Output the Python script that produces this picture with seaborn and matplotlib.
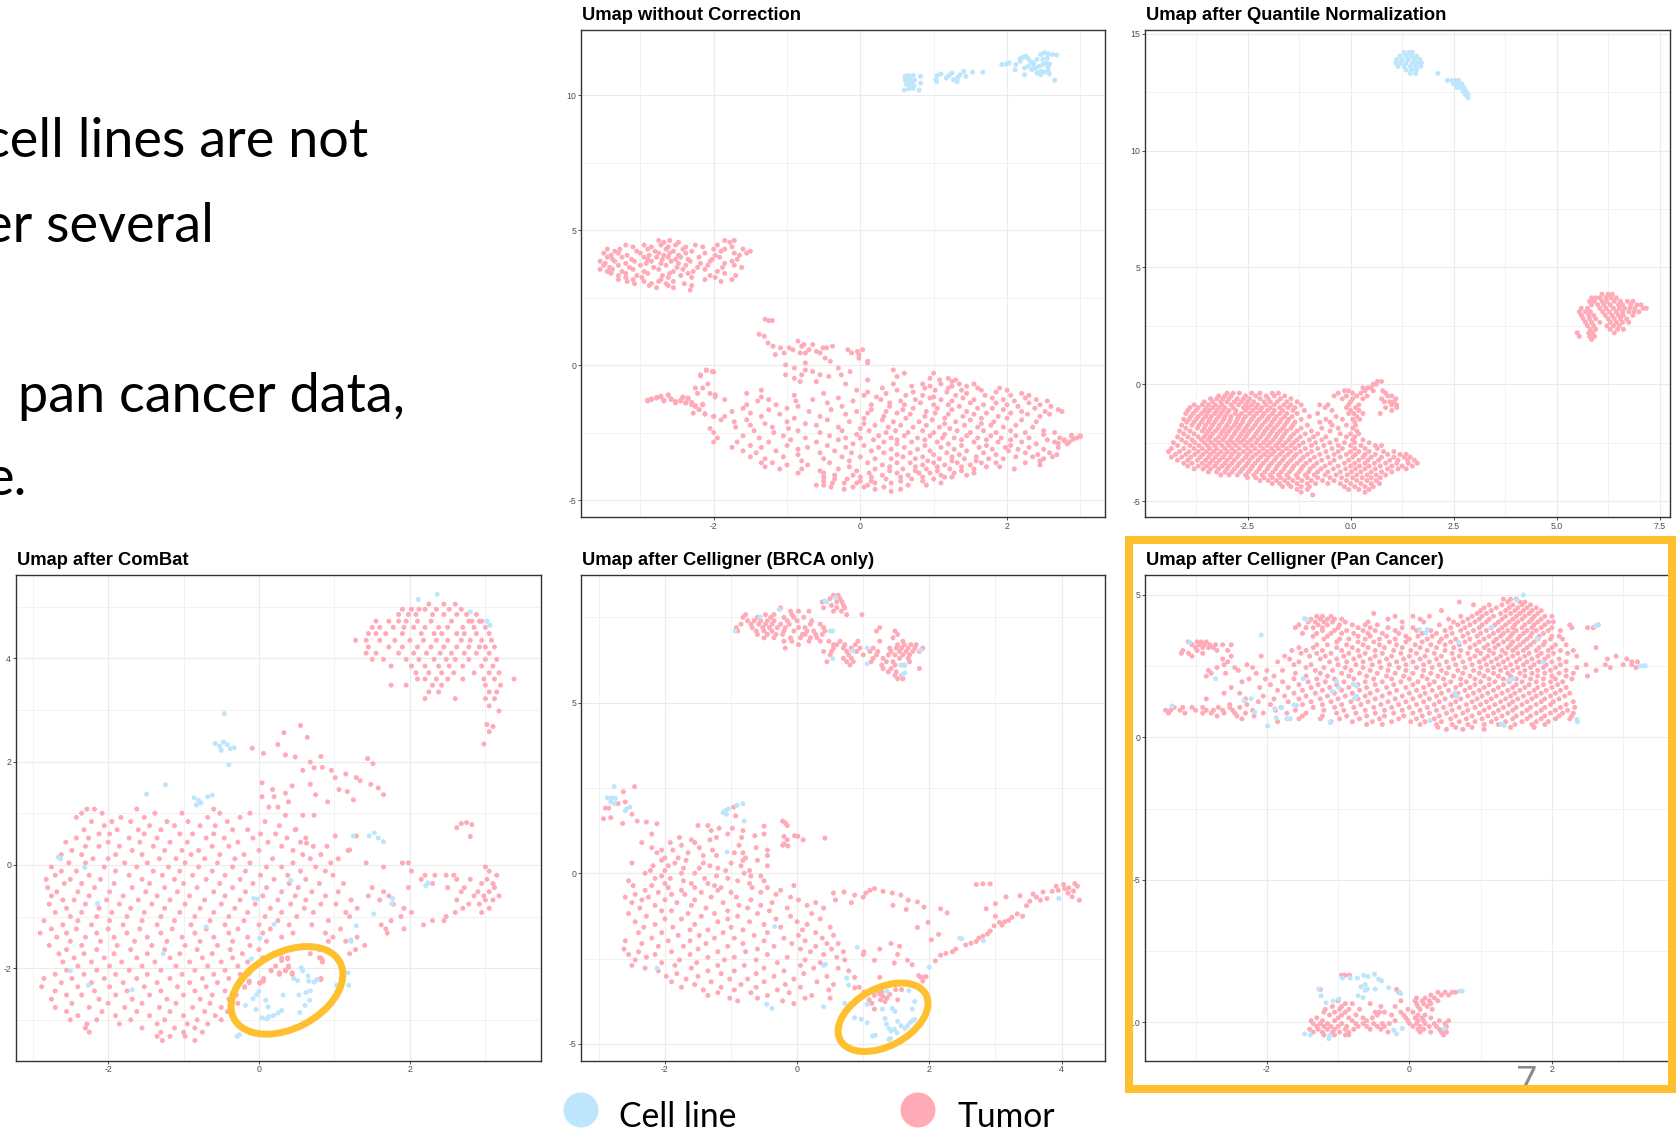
import matplotlib
matplotlib.use("Agg")
import matplotlib.pyplot as plt
import matplotlib.transforms as mtransforms
from matplotlib.patches import Ellipse, Rectangle, Circle
import pandas as pd
import seaborn as sns

W, H, DPI = 1678, 1131, 100
sns.set_theme(style="white")
plt.rcParams["font.family"] = ["Liberation Sans", "DejaVu Sans"]
plt.rcParams["axes.unicode_minus"] = False

CELL = "Cell line"
TUMOR = "Tumor"
PALETTE = {CELL: "#BDE5FB", TUMOR: "#FFAAB7"}
ORANGE = "#FEC02E"

slide_lines = ["cell lines are not", "er several", "pan cancer data,", "e."]
legend_labels = [CELL, TUMOR]
page_number = "7"
titles = ["Umap without Correction", "Umap after Quantile Normalization",
          "Umap after ComBat", "Umap after Celligner (BRCA only)",
          "Umap after Celligner (Pan Cancer)"]

# ---------------- Panel 1: without correction ----------------
p1_cell_pts = [(0.61,10.70),(0.65,10.74),(0.68,10.66),(0.72,10.74),(0.61,10.57),(0.66,10.54),(0.70,10.51),(0.74,10.57),(0.63,10.41),(0.68,10.39),(0.73,10.36),(0.60,10.19),(0.66,10.24),(0.72,10.26),(0.80,10.19),(0.82,10.70),(0.82,10.45),
 (1.03,10.58),(1.05,10.74),(1.10,10.79),(1.17,10.64),(1.21,10.74),(1.25,10.83),(1.27,10.58),(1.33,10.66),(1.36,10.76),(1.41,10.89),(1.44,10.70),(1.53,10.86),(1.67,10.86),(1.04,10.51),(1.32,10.51),
 (1.93,11.14),(1.99,11.16),(2.03,11.20),(2.12,11.14),(2.11,10.95),(2.18,11.36),(2.22,11.41),(2.26,11.45),(2.29,11.36),(2.32,11.26),(2.36,11.20),(2.41,11.33),(2.46,11.51),(2.51,11.58),(2.56,11.54),(2.62,11.51),(2.68,11.49),(2.24,11.01),(2.29,11.08),(2.34,10.95),(2.39,11.01),(2.44,11.08),(2.49,11.14),(2.54,11.20),(2.58,11.16),(2.41,10.83),(2.46,10.89),(2.51,10.86),(2.56,10.91),(2.58,10.79),(2.24,10.76),(2.46,10.76),(2.36,11.14),(2.49,11.33),(2.55,11.39),(2.65,10.56),(2.18,11.26),(2.56,11.04)]
p1_tumor_rows = [
 (4.62, [-2.75, -2.6, -1.85, -1.72]), (4.55, [-2.68, -2.48, -1.78]),
 (4.45, [-3.2, -2.95, -2.72, -2.52, -2.25, -1.95]), (4.38, [-3.1, -2.85, -2.62, -2.38, -2.15, -1.75]),
 (4.3, [-3.45, -3.28, -2.9, -2.65, -2.42, -2.0, -1.85, -1.6]), (4.22, [-3.35, -3.05, -2.8, -2.55, -2.3, -1.9, -1.5]),
 (4.15, [-3.5, -3.3, -3.0, -2.75, -2.6, -2.38, -2.12, -1.72, -1.55]), (4.07, [-3.4, -3.18, -2.88, -2.68, -2.48, -1.98, -1.65]),
 (4.0, [-3.45, -3.25, -2.95, -2.78, -2.62, -2.45, -2.2, -1.92]), (3.92, [-3.38, -3.12, -2.9, -2.7, -2.52, -2.35, -2.02, -1.68]),
 (3.85, [-3.55, -3.35, -3.08, -2.85, -2.58, -2.32, -2.05, -1.75]), (3.77, [-3.48, -3.2, -2.92, -2.72, -2.48, -2.18, -1.85]),
 (3.7, [-3.5, -3.3, -3.0, -2.65, -2.38, -2.08, -1.72]), (3.62, [-3.42, -3.15, -2.82, -2.5, -2.22, -1.88, -1.62]),
 (3.55, [-3.55, -3.38, -3.1, -2.75, -2.42, -2.12]), (3.47, [-3.45, -3.25, -2.95, -2.55, -2.28, -1.95]),
 (3.4, [-3.4, -3.2, -2.9, -2.6, -2.35, -1.85]), (3.32, [-3.3, -3.05, -2.7, -2.45, -2.05, -1.7]),
 (3.25, [-3.2, -2.98, -2.62, -2.3, -1.98]), (3.17, [-3.3, -3.1, -2.72, -2.12, -1.75]),
 (3.1, [-3.18, -2.95, -2.75, -2.55, -1.9]), (3.02, [-3.08, -2.85, -2.65, -2.4]),
 (2.95, [-2.88, -2.62, -2.3]), (2.87, [-2.78, -2.55]), (2.78, [-2.32]),
 (1.7, [-1.3]), (1.65, [-1.25, -1.2]), (1.14, [-1.38]), (1.07, [-1.31]), (0.89, [-0.85]), (0.82, [-1.26]),
 (0.76, [-0.77, -0.65]), (0.7, [-1.19, -0.38, -0.8]), (0.64, [-1.09, -0.97, -0.51, -0.46]),
 (0.57, [-0.92, -0.17, 0.03, -0.7]), (0.51, [-0.04, -0.6]), (0.45, [-1.04, -0.82, -0.75, -0.55, -0.12]),
 (0.39, [-1.16, -0.02]), (0.26, [-0.48, -0.02]), (0.14, [-0.41, 0.1]), (0.08, [0.1, -0.75]), (0.01, [-1.02]),
 (-0.11, [-0.9, -0.3]), (-0.18, [-0.75, -2.1, 0.45]), (-0.24, [-0.65, -0.14, -2.02]), (-0.3, [0.6, 1.0]),
 (-0.36, [-0.8, -0.55, -0.26, -1.02, -2.18]), (-0.42, [-0.43, 0.5]), (-0.49, [-0.9, 0.95, 1.2]),
 (-0.55, [1.08, 1.3, 0.1]), (-0.61, [-0.82, -0.6, 1.25]),
 (-0.7, [-2.08, -0.2, 0.45, 0.85, 1.1, 1.35, 1.55]), (-0.78, [0.7, 0.95, 1.25, 1.45]),
 (-0.85, [-2.15, -2.25, 0.3, 0.88, 1.2, 1.6, 1.9]), (-0.93, [-1.35, -0.05, 0.5, 1.02, 1.38, 1.65, 2.0]),
 (-1.0, [0.1, 0.72, 1.18, 1.85]), (-1.05, [-2.22, -2.05, -1.55, -0.5, 0.35, 1.45, 2.2]),
 (-1.12, [-2.62, -0.9, 0.05, 0.62, 0.85, 1.3, 1.7, 2.05, 2.3]), (-1.18, [-2.72, -2.42, -1.98, -1.35, 0.22, 1.0]),
 (-1.22, [-2.78, -2.35, -0.3, 0.95, 1.4, 1.8, 2.25]), (-1.28, [-2.85, -2.58, -1.85, -1.25, -0.65, 0.28, 0.75, 1.1, 1.55, 1.95, 2.4]),
 (-1.33, [-2.9, -2.68, -2.45, -1.4, -0.88, -0.1, 0.55, 1.25, 2.1, 2.55]), (-1.4, [-2.52, -2.38, -0.45, 0.4, 0.82, 1.5, 1.85, 2.3]),
 (-1.47, [-2.3, -2.15, -1.55, -1.15, 0.15, 0.6, 1.0, 1.2, 1.68, 2.0, 2.45]), (-1.53, [-2.25, -0.85, -0.25, 0.4, 1.35, 2.15, 2.6]),
 (-1.6, [-1.6, -1.0, 0.72, 1.05, 1.6, 1.8, 2.38]), (-1.65, [-2.2, -1.25, -0.4, 0.15, 0.58, 1.25, 1.95, 2.7]),
 (-1.72, [-1.75, -0.7, -0.05, 0.35, 0.9, 1.45, 2.2, 2.52, 2.75]), (-1.78, [-2.28, -1.5, 0.1, 0.5, 1.02, 1.72, 2.05]),
 (-1.82, [-2.12, -1.1, -0.2, 0.68, 1.2, 1.55, 2.28, 2.58]), (-1.9, [-2.0, -1.85, -1.35, -0.55, 0.32, 0.88, 1.4, 1.88, 2.45]),
 (-1.97, [-0.9, 0.05, 0.62, 1.15, 1.65, 2.0]), (-2.03, [-1.9, -1.55, -0.45, 0.3, 0.98, 1.5, 2.2]),
 (-2.1, [-1.72, -1.0, -0.15, 0.45, 0.8, 1.3, 1.82, 2.4]), (-2.17, [-1.3, -0.75, 0.05, 1.15, 1.65]),
 (-2.23, [-1.5, -0.6, 0.2, 0.55, 0.9, 1.42, 1.78, 2.12]), (-2.3, [-1.7, -1.2, -0.3, 0.38, 0.72, 1.08, 1.6, 1.95, 2.35]),
 (-2.35, [-2.05, -0.98, 0.0, 1.22]), (-2.43, [-1.45, -0.85, -0.25, 0.12, 0.48, 0.85, 1.32, 1.68, 2.05, 2.5]),
 (-2.5, [-2.0, -1.18, -0.55, 0.35, 0.65, 1.0, 1.5, 1.85, 2.25, 2.65]), (-2.57, [-0.05, 1.15, 2.5]),
 (-2.62, [-1.6, -1.05, -0.42, 0.25, 0.6, 0.95, 1.45, 1.78, 2.12, 2.88, 3.0]),
 (-2.7, [-1.95, -1.38, -0.75, -0.2, 0.0, 0.42, 0.78, 1.12, 1.28, 1.6, 1.92, 2.3, 2.72, 2.95]),
 (-2.77, [-0.95, -0.3, 0.18, 0.5, 0.88, 1.38, 1.72, 2.05, 2.55, 2.78]),
 (-2.85, [-2.0, -1.68, -1.25, -0.6, 0.32, 0.7, 1.05, 1.55, 1.88, 2.2, 2.65, 2.85]),
 (-2.92, [-0.1, 0.5, 1.2, 2.4, 2.82]), (-2.98, [-1.5, -1.0, -0.45, 0.05, 0.88, 1.38, 1.72, 2.05]),
 (-3.05, [-1.75, -1.35, -0.72, -0.2, 0.25, 0.6, 1.1, 1.62, 1.98, 2.3, 2.7]), (-3.12, [-0.85, 0.42, 0.78, 1.28, 1.8, 2.15, 2.5]),
 (-3.18, [-1.6, -1.15, -0.35, 0.15, 0.95, 1.45, 2.02]), (-3.25, [-1.42, -0.55, -0.12, 0.32, 0.68, 1.18, 1.68, 2.25, 2.58]),
 (-3.32, [-0.85, 0.5, 1.0, 1.35, 1.85, 2.42, 2.68]), (-3.4, [-1.5, -1.05, -0.25, 0.0, 0.58, 0.85, 1.25, 1.58, 2.12, 2.35, 2.62]),
 (-3.47, [-1.3, -0.5, 0.2, 0.42, 0.75, 1.08, 1.42, 1.75, 1.95, 2.5]), (-3.55, [-0.8, -0.15, 0.92, 1.25, 1.58, 2.45]),
 (-3.62, [-1.35, -1.2, -0.42, 0.1, 0.5, 0.68, 1.0, 1.32, 1.65, 1.85, 2.25]), (-3.7, [-1.0, -0.72, 0.3, 0.85, 1.15, 1.5, 2.45]),
 (-3.77, [-1.3, -0.15, 0.4, 0.75, 1.05, 1.38, 1.72, 1.9]), (-3.85, [-1.1, -0.8, -0.3, 0.2, 0.58, 0.9, 1.22, 1.55, 2.1]),
 (-3.92, [-0.55, -0.05, 0.4, 0.75, 1.05, 1.38]), (-4.0, [-0.85, -0.5, 0.12, 0.5, 0.8, 0.95, 1.28, 1.55]),
 (-4.08, [-0.35, -0.1, 0.3, 0.65, 1.1, 1.45]), (-4.15, [-0.5, 0.0, 0.15, 0.55, 0.85, 1.15, 1.25]),
 (-4.22, [-0.35, -0.18, 0.35, 0.7, 1.0]), (-4.3, [-0.5, 0.0, 0.15, 0.55, 0.85]),
 (-4.37, [-0.38, -0.22, -0.05, 0.2, 0.42, 1.1]), (-4.45, [-0.6, -0.5, 0.1, 0.65, 0.9]),
 (-4.52, [-0.4, -0.1, 0.05, 0.32]), (-4.6, [-0.22, 0.2, 0.55]), (-4.68, [0.42])]
p1_tumor_pts = [(-2.9,-1.3),(-2.85,-1.25),(-2.78,-1.2),(-2.72,-1.15),(-2.68,-1.3),(-2.62,-1.1),(-2.58,-1.25),(-2.52,-1.35),(-2.45,-1.3),(-2.38,-1.4),(-2.3,-1.38),(-2.25,-1.5),(-2.15,-1.45),(-2.35,-1.25),(-2.42,-1.2),(-2.2,-1.65),(-2.12,-1.8),(-2.0,-1.9),(-2.18,-0.4),(-2.1,-0.2),(-2.0,-0.25),(-1.98,-1.1),(3.0,-2.65),(2.9,-2.75),(2.78,-2.8),(2.7,-2.9),(2.88,-2.6)]

# ---------------- Panel 2: quantile normalization ----------------
p2_cell_rows = [(14.2, [1.3, 1.42, 1.5]), (14.05, [1.2, 1.35, 1.48, 1.6]), (13.9, [1.12, 1.25, 1.4, 1.55, 1.68]),
 (13.75, [1.1, 1.22, 1.35, 1.5, 1.62, 1.72]), (13.6, [1.15, 1.3, 1.45, 1.58, 1.7]), (13.45, [1.35, 1.48, 1.6]),
 (13.3, [1.45, 1.58, 2.12]), (13.0, [2.35, 2.45, 2.55, 2.62]), (12.85, [2.5, 2.6, 2.7]), (12.7, [2.58, 2.68, 2.75]),
 (12.55, [2.72, 2.8]), (12.4, [2.78, 2.85]), (12.27, [2.85])]
p2_tumor_rows = [
 (3.85, [6.1, 6.25, 6.35]), (3.7, [5.85, 5.95, 6.05, 6.2, 6.32, 6.45]),
 (3.55, [5.8, 5.92, 6.1, 6.22, 6.4, 6.55, 6.72, 6.85]), (3.4, [5.85, 6.0, 6.15, 6.3, 6.5, 6.6, 6.8, 6.95, 7.05]),
 (3.25, [5.6, 5.75, 6.05, 6.2, 6.38, 6.52, 6.65, 6.78, 6.9, 7.1, 7.18]), (3.1, [5.55, 5.7, 5.82, 6.12, 6.28, 6.45, 6.6, 6.75, 6.88, 7.0]),
 (2.95, [5.6, 5.78, 5.9, 6.18, 6.35, 6.5, 6.62, 6.85]), (2.8, [5.65, 5.8, 5.95, 6.25, 6.4, 6.55, 6.7]),
 (2.65, [5.7, 5.85, 6.05, 6.3, 6.45, 6.6, 6.75]), (2.5, [5.75, 5.9, 6.22, 6.38, 6.52]),
 (2.35, [5.82, 5.95, 6.3, 6.48, 6.62]), (2.2, [5.5, 5.78, 5.88, 6.4]), (2.05, [5.55, 5.8, 5.92]), (1.92, [5.85]),
 (0.12, [0.65, 0.75]), (0.0, [0.55, 0.62]), (-0.15, [0.3, 0.42, 0.5]), (-0.28, [-0.15, -0.05, 0.35, 0.55, 0.78]),
 (-0.38, [-3.0, -2.85, -2.7, -2.4, -2.2, -1.9, -1.75, -0.3, 0.05, 0.25, 0.85]),
 (-0.5, [-3.2, -3.05, -2.9, -2.55, -2.3, -2.05, -1.85, -1.6, -0.4, -0.1, 0.15, 0.4, 0.9, 1.0]),
 (-0.62, [-3.4, -3.25, -3.1, -2.95, -2.75, -2.6, -2.45, -2.2, -2.0, -1.7, -1.45, -0.2, 0.05, 0.3, 0.75, 1.1]),
 (-0.75, [-3.55, -3.35, -3.15, -3.0, -2.82, -2.65, -2.5, -2.35, -2.1, -1.95, -1.78, -1.55, -1.3, 0.0, 0.82, 0.95, 1.05]),
 (-0.88, [-3.8, -3.6, -3.45, -3.28, -3.12, -2.9, -2.72, -2.55, -2.4, -2.25, -2.05, -1.85, -1.62, -1.45, -1.2, -0.75, -0.55, -0.05, 0.2, 1.0, 1.12]),
 (-1.0, [-3.9, -3.7, -3.5, -3.35, -3.2, -3.05, -2.85, -2.6, -2.48, -2.3, -2.15, -1.95, -1.72, -1.52, -1.35, -0.62, -0.1, 0.12, 0.85, 1.12]),
 (-1.12, [-3.95, -3.75, -3.55, -3.42, -3.25, -3.1, -2.95, -2.78, -2.55, -2.38, -2.2, -2.02, -1.85, -1.65, -1.4, -1.12, -0.45, 0.0, 0.2, 1.0]),
 (-1.25, [-4.0, -3.82, -3.62, -3.48, -3.3, -3.15, -3.0, -2.8, -2.65, -2.45, -2.28, -2.1, -1.9, -1.72, -1.55, -1.3, -0.8, -0.05, 0.08, 0.3, 0.72]),
 (-1.38, [-3.88, -3.7, -3.52, -3.38, -3.2, -3.05, -2.9, -2.72, -2.55, -2.35, -2.15, -1.98, -1.8, -1.6, -1.42, -1.0, -0.35, 0.15]),
 (-1.5, [-4.05, -3.92, -3.75, -3.58, -3.42, -3.25, -3.08, -2.92, -2.75, -2.6, -2.4, -2.22, -2.02, -1.85, -1.68, -1.5, -1.2, -0.6, -0.2, 0.05, 0.22]),
 (-1.62, [-3.98, -3.8, -3.62, -3.45, -3.3, -3.12, -2.95, -2.78, -2.62, -2.45, -2.28, -2.08, -1.9, -1.72, -1.55, -1.35, -0.75, -0.5, 0.1]),
 (-1.75, [-4.1, -3.85, -3.68, -3.52, -3.35, -3.18, -3.0, -2.82, -2.68, -2.5, -2.32, -2.15, -1.95, -1.78, -1.6, -1.4, -1.05, -0.45, -0.1, 0.12]),
 (-1.88, [-4.0, -3.72, -3.55, -3.4, -3.22, -3.05, -2.9, -2.72, -2.55, -2.38, -2.2, -2.02, -1.85, -1.65, -1.45, -1.2, -0.7, -0.3, 0.05]),
 (-2.0, [-4.15, -3.9, -3.6, -3.45, -3.28, -3.1, -2.95, -2.78, -2.6, -2.45, -2.25, -2.08, -1.9, -1.72, -1.55, -1.3, -0.95, -0.5, 0.15]),
 (-2.12, [-4.05, -3.8, -3.5, -3.35, -3.15, -3.0, -2.82, -2.65, -2.5, -2.3, -2.12, -1.95, -1.78, -1.6, -1.38, -1.1, -0.8, -0.25, 0.0, 0.2]),
 (-2.25, [-4.2, -3.95, -3.7, -3.55, -3.4, -3.2, -3.05, -2.88, -2.7, -2.55, -2.35, -2.18, -2.0, -1.82, -1.65, -1.45, -1.22, -0.9, -0.6, -0.1, 0.1]),
 (-2.38, [-4.1, -3.85, -3.62, -3.45, -3.28, -3.1, -2.92, -2.75, -2.6, -2.42, -2.25, -2.05, -1.88, -1.7, -1.5, -1.3, -1.0, -0.7, -0.35, 0.05, 0.3]),
 (-2.5, [-4.3, -4.0, -3.78, -3.55, -3.38, -3.2, -3.0, -2.85, -2.68, -2.5, -2.3, -2.12, -1.95, -1.75, -1.58, -1.38, -1.15, -0.85, -0.5, -0.15, 0.1, 0.45]),
 (-2.62, [-4.2, -3.9, -3.68, -3.48, -3.3, -3.12, -2.95, -2.78, -2.58, -2.4, -2.2, -2.02, -1.82, -1.65, -1.45, -1.25, -0.95, -0.65, -0.3, 0.0, 0.25, 0.6, 0.75]),
 (-2.75, [-4.35, -4.05, -3.8, -3.6, -3.42, -3.25, -3.05, -2.88, -2.7, -2.5, -2.32, -2.12, -1.92, -1.75, -1.55, -1.35, -1.1, -0.8, -0.45, -0.2, 0.1, 0.35, 0.65]),
 (-2.88, [-4.42, -4.15, -3.92, -3.7, -3.5, -3.32, -3.15, -2.98, -2.8, -2.6, -2.42, -2.22, -2.02, -1.85, -1.65, -1.45, -1.22, -0.95, -0.6, -0.3, 0.0, 0.2, 0.45, 0.8, 1.05]),
 (-3.0, [-4.25, -4.0, -3.78, -3.58, -3.4, -3.22, -3.05, -2.88, -2.7, -2.5, -2.3, -2.1, -1.92, -1.72, -1.52, -1.32, -1.05, -0.75, -0.4, -0.1, 0.12, 0.35, 0.6, 0.9, 1.2, 1.35]),
 (-3.12, [-4.35, -4.1, -3.88, -3.65, -3.45, -3.28, -3.1, -2.92, -2.75, -2.55, -2.38, -2.18, -2.0, -1.8, -1.6, -1.38, -1.15, -0.88, -0.55, -0.25, 0.05, 0.3, 0.5, 0.75, 1.05, 1.3, 1.45]),
 (-3.25, [-4.2, -3.95, -3.72, -3.52, -3.35, -3.18, -3.0, -2.82, -2.62, -2.45, -2.25, -2.05, -1.85, -1.65, -1.45, -1.22, -0.98, -0.7, -0.4, -0.05, 0.2, 0.42, 0.68, 0.95, 1.15, 1.38, 1.55]),
 (-3.38, [-4.05, -3.85, -3.6, -3.42, -3.25, -3.05, -2.88, -2.7, -2.5, -2.32, -2.12, -1.92, -1.72, -1.52, -1.3, -1.08, -0.82, -0.5, -0.15, 0.1, 0.35, 0.58, 0.85, 1.12, 1.4, 1.62]),
 (-3.5, [-3.95, -3.7, -3.5, -3.3, -3.12, -2.95, -2.75, -2.55, -2.38, -2.18, -1.98, -1.78, -1.58, -1.38, -1.15, -0.9, -0.62, -0.3, 0.0, 0.22, 0.45, 0.72, 1.0, 1.25, 1.5]),
 (-3.62, [-3.8, -3.58, -3.4, -3.2, -3.0, -2.82, -2.62, -2.42, -2.22, -2.02, -1.82, -1.62, -1.42, -1.2, -0.98, -0.72, -0.42, -0.12, 0.12, 0.35, 0.6, 0.9, 1.15, 1.35]),
 (-3.75, [-3.45, -3.25, -3.05, -2.88, -2.68, -2.48, -2.28, -2.08, -1.88, -1.68, -1.48, -1.25, -1.02, -0.8, -0.55, -0.25, 0.02, 0.25, 0.5, 0.75, 1.0]),
 (-3.88, [-3.15, -2.95, -2.75, -2.55, -2.35, -2.15, -1.95, -1.75, -1.55, -1.32, -1.1, -0.88, -0.62, -0.35, -0.08, 0.15, 0.4, 0.62, 0.85]),
 (-4.0, [-2.5, -2.3, -2.1, -1.9, -1.7, -1.5, -1.28, -1.05, -0.8, -0.5, -0.22, 0.05, 0.28, 0.5, 0.72]),
 (-4.12, [-2.2, -2.0, -1.8, -1.6, -1.4, -1.18, -0.95, -0.68, -0.4, -0.1, 0.15, 0.4, 0.62]),
 (-4.25, [-1.9, -1.72, -1.52, -1.3, -1.05, -0.85, -0.55, -0.25, 0.0, 0.25, 0.5, 0.7]),
 (-4.38, [-1.65, -1.45, -1.2, -1.0, -0.15, 0.1, 0.35, 0.55]), (-4.5, [-1.3, -1.05, -0.05, 0.2, 0.45]),
 (-4.62, [-1.2, 0.35]), (-4.74, [-0.92])]

# ---------------- Panel 3: ComBat ----------------
p3_cell_pts = [(-0.46,2.93),(-0.58,2.35),(-0.52,2.30),(-0.47,2.38),(-0.42,2.33),(-0.38,2.25),(-0.33,2.27),(-0.50,2.22),(-0.40,1.94),(-1.24,1.55),(-1.49,1.37),(-0.86,1.30),(-0.80,1.25),(-0.77,1.20),(-0.83,1.16),(-0.68,1.32),(-0.62,1.35),(1.25,0.56),(1.46,0.56),(1.53,0.62),(1.58,0.52),(1.65,0.45),(-2.66,0.15),(-2.63,0.12),(-2.31,-0.05),(-2.14,-0.75),(0.42,-0.30),(-0.07,-0.65),(-0.02,-0.66),(0.20,-1.15),(-0.70,-1.20),(-1.27,-1.72),(-1.68,-2.42),(-2.26,-2.33),(-2.50,-2.05),(1.29,-1.18),(1.22,-1.48),(2.24,-0.35),(2.21,-0.40),(1.77,-0.65),(1.76,-0.75),(1.52,-0.95),(0.01,-1.42),(-0.29,-3.32),(-0.26,-3.29),
 (-0.10,-1.82),(-0.13,-2.11),(-0.18,-2.72),(-0.08,-2.59),(-0.03,-2.51),(0.00,-2.45),(0.09,-2.62),(-0.04,-2.80),(0.04,-2.96),(0.10,-2.98),(0.13,-2.94),(0.19,-2.92),(0.25,-2.87),(0.30,-2.82),(0.12,-2.75),(0.32,-2.52),(0.46,-2.20),(0.51,-2.24),(0.56,-1.99),(0.58,-2.05),(0.65,-2.15),(0.66,-2.25),(0.73,-2.27),(0.77,-2.22),(0.53,-2.52),(0.62,-2.47),(0.68,-2.44),(0.67,-2.62),(0.61,-2.72),(0.54,-2.86),(1.03,-2.33),(1.08,-2.33),(1.19,-2.33),(1.18,-2.09),(1.22,-1.45),
 (2.11,5.14),(2.36,5.24),(2.80,4.90),(3.02,4.72),(3.06,4.64)]
p3_tumor_rows = [
 (5.05, [2.25, 2.45, 2.6]), (4.95, [1.9, 2.02, 2.12, 2.2, 2.35, 2.52, 2.68]),
 (4.85, [1.85, 1.98, 2.08, 2.3, 2.45, 2.62, 2.75, 2.88]), (4.72, [1.55, 1.72, 1.85, 1.95, 2.1, 2.28, 2.55, 2.78, 2.82, 2.92, 2.95]),
 (4.6, [1.5, 1.6, 1.78, 1.92, 2.05, 2.2, 2.38, 2.5, 2.7, 2.85, 3.0]), (4.48, [1.45, 1.55, 1.68, 1.9, 2.15, 2.32, 2.42, 2.62, 2.72, 2.88, 3.05]),
 (4.35, [1.28, 1.42, 1.6, 1.8, 2.0, 2.18, 2.35, 2.5, 2.68, 2.8, 2.95, 3.08]), (4.22, [1.45, 1.72, 1.9, 2.1, 2.28, 2.45, 2.62, 2.78, 2.92, 3.0, 3.12]),
 (4.1, [1.42, 1.55, 1.85, 2.05, 2.22, 2.4, 2.55, 2.72, 2.88, 3.05]), (3.98, [1.5, 1.65, 1.95, 2.12, 2.32, 2.48, 2.6, 2.78, 3.0, 3.15]),
 (3.85, [1.75, 2.02, 2.2, 2.38, 2.52, 2.7, 2.95, 3.1]), (3.72, [2.08, 2.25, 2.42, 2.58, 2.85, 3.05, 3.18]),
 (3.6, [2.1, 2.2, 2.35, 2.5, 2.7, 2.98, 3.12, 3.38]), (3.48, [1.75, 1.95, 2.3, 2.42, 3.0, 3.2]),
 (3.35, [2.25, 2.38, 3.05, 3.15]), (3.22, [2.2, 2.6, 3.0, 3.12]), (3.08, [3.05]), (2.98, [3.18]),
 (2.72, [3.02]), (2.68, [3.1]), (2.58, [3.05]), (2.34, [2.98]),
 (1.08, [-2.28, -2.18, -1.62, -0.6]), (1.0, [-2.35, -2.08, -1.38, -1.02, -0.52, -0.12]),
 (0.92, [-2.42, -1.83, -1.52, -0.68, -0.25]), (0.84, [-2.22, -1.95, -1.7, -1.22, -0.94, -0.42, 0.08]),
 (0.76, [-2.05, -1.45, -1.12, -0.78, -0.58, 0.27]), (0.68, [-2.32, -1.88, -1.6, -1.3, -0.35, -0.15, 0.48]),
 (0.6, [-2.12, -1.98, -1.52, -1.05, -0.88, -0.6, 0.02, 0.22]), (0.52, [-2.42, -2.26, -1.72, -1.35, -0.7, -0.46, -0.08, 0.37, 0.62]),
 (0.44, [-2.56, -2.0, -1.58, -1.18, -0.95, -0.28, 0.12, 0.55]), (0.36, [-2.3, -2.12, -1.85, -1.4, -0.62, -0.4, 0.3, 0.72, 0.9]),
 (0.28, [-2.48, -1.68, -1.25, -1.02, -0.8, 0.0, 0.45, 1.18]), (0.2, [-2.62, -2.35, -1.9, -1.55, -0.9, -0.52, -0.2, 0.58, 0.82]),
 (0.12, [-2.2, -2.0, -1.32, -1.1, -0.72, -0.32, 0.18, 0.68, 1.05]),
 (0.04, [-2.52, -2.3, -1.78, -1.48, -0.98, -0.55, -0.12, 0.45, 0.95, 1.42, 1.9, 1.98]),
 (-0.04, [-2.75, -2.05, -1.62, -1.2, -0.8, -0.35, 0.1, 0.3, 0.75, 1.65, 3.0]),
 (-0.12, [-2.62, -2.42, -1.9, -1.4, -1.05, -0.62, -0.18, 0.55, 0.88, 2.02, 3.05]),
 (-0.2, [-2.7, -2.25, -1.72, -1.28, -0.88, -0.45, 0.02, 0.38, 0.98, 2.2, 2.33, 2.48, 2.58, 3.15]),
 (-0.28, [-2.82, -2.5, -2.1, -1.55, -1.12, -0.7, -0.25, 0.2, 0.62, 2.15, 2.62, 2.8, 3.02]),
 (-0.36, [-2.58, -2.35, -1.92, -1.45, -1.0, -0.52, -0.08, 0.4, 0.8, 1.12, 2.3, 2.95, 3.1]),
 (-0.44, [-2.8, -2.18, -1.68, -1.25, -0.82, -0.35, 0.1, 0.52, 1.5, 1.98, 2.5, 2.72, 3.12]),
 (-0.52, [-2.68, -2.4, -1.98, -1.5, -1.08, -0.6, -0.18, 0.3, 0.7, 1.05, 1.65, 2.68, 2.9, 3.05]),
 (-0.6, [-2.75, -2.25, -1.8, -1.35, -0.92, -0.45, 0.05, 0.48, 0.88, 1.45, 1.72, 2.85, 2.98, 3.18]),
 (-0.68, [-2.6, -2.45, -2.02, -1.6, -1.18, -0.72, -0.25, 0.25, 0.62, 1.22, 1.6, 2.62, 3.0, 3.1]),
 (-0.76, [-2.78, -2.3, -1.85, -1.42, -0.98, -0.5, -0.05, 0.42, 0.82, 1.02, 1.78, 2.78, 2.92]),
 (-0.84, [-2.55, -2.12, -1.7, -1.25, -0.78, -0.32, 0.15, 0.6, 1.3, 1.92, 2.7, 3.05]),
 (-0.92, [-2.7, -2.35, -1.95, -1.52, -1.05, -0.6, -0.15, 0.3, 0.72, 1.15, 2.02, 2.6, 2.95]),
 (-1.0, [-2.5, -2.15, -1.75, -1.3, -0.85, -0.4, 0.08, 0.5, 1.2, 1.88, 2.48]),
 (-1.08, [-2.85, -2.4, -1.98, -1.55, -1.12, -0.65, -0.2, 0.25, 0.92, 1.75, 2.3, 2.45]),
 (-1.16, [-2.6, -2.22, -1.8, -1.35, -0.9, -0.45, 0.0, 0.4, 0.7, 1.62, 2.18]),
 (-1.24, [-2.75, -2.42, -2.0, -1.58, -1.15, -0.7, -0.28, 0.15, 1.08, 1.68, 1.92]),
 (-1.32, [-2.9, -2.55, -2.15, -1.75, -1.3, -0.85, -0.4, 0.05, 0.45, 0.88, 1.7]),
 (-1.4, [-2.68, -2.3, -1.92, -1.48, -1.02, -0.6, -0.15, 0.3, 0.98, 1.3]),
 (-1.48, [-2.5, -2.1, -1.65, -1.22, -0.78, -0.35, 0.1, 0.92, 1.15]),
 (-1.56, [-2.78, -2.35, -1.88, -1.42, -0.98, -0.55, -0.12, 0.6, 1.4]),
 (-1.64, [-2.55, -2.15, -1.7, -1.25, -0.82, -0.38, 0.0, 0.8, 1.28]),
 (-1.72, [-2.65, -2.32, -1.92, -1.48, -1.05, -0.62, -0.22, 0.68, 1.2]),
 (-1.8, [-2.45, -2.05, -1.62, -1.18, -0.75, -0.35, 0.05, 0.3, 0.38, 0.82]),
 (-1.88, [-2.6, -2.22, -1.82, -1.38, -0.92, -0.5, -0.15, 0.84]),
 (-1.96, [-2.4, -1.98, -1.55, -1.1, -0.68, -0.28, 0.22, 0.39]),
 (-2.04, [-2.55, -2.15, -1.72, -1.3, -0.85, -0.45, 0.16, 0.35]),
 (-2.12, [-2.7, -2.32, -1.9, -1.48, -1.02, -0.6, -0.25, 0.27, 0.44]),
 (-2.2, [-2.85, -2.48, -2.05, -1.62, -1.18, -0.75, -0.4, 0.06, 0.82]),
 (-2.28, [-2.62, -2.22, -1.8, -1.35, -0.92, -0.55, -0.13, 0.01]),
 (-2.36, [-2.88, -2.4, -1.98, -1.52, -1.08, -0.7, -0.19]),
 (-2.44, [-2.7, -2.18, -1.75, -1.3, -0.85, -0.45]), (-2.52, [-2.55, -2.35, -1.9, -1.45, -1.0, -0.62, -0.3]),
 (-2.6, [-2.75, -2.12, -1.68, -1.22, -0.78, -0.4]), (-2.68, [-2.48, -2.0, -1.55, -1.1, -0.65, -0.28]),
 (-2.76, [-2.7, -2.25, -1.78, -1.32, -0.88, -0.5]), (-2.84, [-2.55, -2.08, -1.62, -1.18, -0.72, -0.42]),
 (-2.92, [-2.4, -1.9, -1.45, -1.0, -0.58]), (-3.0, [-2.5, -2.15, -1.7, -1.25, -0.82, -0.5]),
 (-3.08, [-2.28, -1.85, -1.35, -0.95, -0.68]), (-3.16, [-2.3, -1.55, -1.12, -0.85]),
 (-3.24, [-2.25, -1.3, -1.0, -0.75]), (-3.32, [-1.35, -1.18, -0.98]), (-3.4, [-1.28, -0.85])]
p3_tumor_pts = [(0.55,2.7),(0.64,2.47),(0.33,2.56),(-0.09,2.26),(0.06,2.16),(0.25,2.33),(0.35,2.13),(0.48,2.09),(0.68,1.99),(0.82,2.1),(0.58,1.83),(0.73,1.88),(0.84,1.89),(0.96,1.83),(1.01,1.69),(1.15,1.76),(1.29,1.69),(1.44,2.06),(1.51,1.96),(1.48,1.56),(1.58,1.49),(1.65,1.36),(1.34,1.63),(1.06,1.46),(1.17,1.42),(1.25,1.26),(0.91,1.22),(0.75,1.36),(0.68,1.56),(0.44,1.53),(0.18,1.46),(0.04,1.59),(0.2,1.32),(0.35,1.39),(0.25,1.12),(0.35,0.96),(0.04,1.32),(0.13,1.12),(0.39,1.22),(0.58,0.96),(0.73,0.96),(0.49,0.69),(0.63,0.42),(1.01,0.56),(1.2,0.29),(1.29,0.56),(2.68,0.8),(2.75,0.82),(2.82,0.78),(2.8,0.55),(2.62,0.72),
 (0.3,-1.85),(0.38,-1.82),(0.39,-1.99),(0.27,-2.09),(0.35,-2.05),(0.44,-2.09),(0.16,-2.05),(0.06,-2.25),(0.01,-2.29),(-0.13,-2.25),(-0.19,-2.37),(0.82,-2.22),(0.84,-1.84),(0.8,-1.8)]

# ---------------- Panel 4: Celligner BRCA ----------------
p4_cell_pts = [(0.42,7.98),(0.45,7.95),(0.58,8.08),(-0.27,7.73),(-0.56,7.51),(-0.94,7.10),(0.50,7.10),(0.54,7.10),(0.84,6.52),(1.06,6.60),(1.06,6.14),(0.54,6.29),(1.87,6.54),(1.57,6.10),(1.63,6.10),(1.60,5.82),(1.63,5.87),
 (-2.77,2.54),(-2.80,2.21),(-2.87,2.21),(-2.82,2.09),(-2.75,2.19),(-2.77,2.04),(-2.58,1.89),(-2.53,1.94),(-2.60,1.83),(-1.09,1.83),(-1.07,1.73),(-1.12,1.78),(-1.04,1.89),(-0.91,1.99),(-0.82,2.04),(-0.80,1.53),(-1.06,0.62),
 (0.87,-4.24),(0.97,-4.28),(1.06,-4.38),(1.14,-4.77),(1.18,-4.75),(1.06,-3.84),(1.29,-3.98),(1.33,-4.26),(1.35,-4.42),(1.39,-4.55),(1.42,-4.62),(1.47,-4.57),(1.51,-4.67),(1.44,-3.96),(1.48,-4.05),(1.52,-4.34),(1.57,-4.47),(1.63,-4.55),(1.67,-4.47),(1.71,-4.37),(1.75,-4.31),(1.78,-4.28),(1.74,-3.98),(1.78,-3.76),(1.69,-3.44),(1.36,-3.46),(1.41,-4.84),(1.39,-4.87),(0.75,-3.07),(0.78,-3.28),(0.72,-3.81),(0.40,-3.91),(0.40,-2.70),(0.43,-2.67),(0.91,-2.17),(-0.46,-3.84),(-0.38,-3.96),(-0.34,-1.56),(-2.12,-2.78),(2.00,-2.75),(2.46,-1.90),(2.49,-1.92),(2.82,-1.98),(3.96,-0.74)]
p4_tumor_rows = [
 (8.15, [0.55, 0.62]), (8.05, [0.5, 0.65]), (7.95, [0.38, 0.6, 0.68]), (7.85, [0.52, 0.7]),
 (7.78, [-0.25, 0.4, 0.6, 0.72]), (7.68, [-0.1, 0.02, 0.18, 0.55, 0.67]), (7.58, [-0.78, -0.48, -0.35, -0.08, 0.75, 0.98]),
 (7.5, [-0.82, -0.6, -0.4, -0.2, -0.05, 0.1]), (7.4, [-0.75, -0.65, -0.55, -0.45, -0.35, -0.15, 0.0, 0.22]),
 (7.3, [-0.85, -0.7, -0.58, -0.48, -0.38, -0.25, -0.12, 0.2, 0.35]), (7.2, [-0.92, -0.68, -0.52, -0.42, -0.3, -0.18, 0.02, 0.12, 0.4, 1.25]),
 (7.1, [-0.9, -0.62, -0.5, -0.38, -0.2, -0.05, 0.15, 0.25, 0.42, 1.2, 1.48]), (7.0, [-0.6, -0.45, -0.32, -0.22, 0.08, 0.12, 0.28, 0.38, 1.52]),
 (6.9, [-0.5, -0.35, -0.1, 0.05, 0.2, 0.3, 1.45]), (6.8, [-0.2, -0.08, 0.18, 0.35, 0.48, 0.65, 0.92, 1.25, 1.6]),
 (6.7, [0.02, 0.55, 0.6, 0.72, 0.88, 1.52, 1.62, 1.72, 1.8]), (6.6, [-0.18, 0.55, 0.7, 0.82, 0.95, 1.15, 1.4, 1.5, 1.58, 1.68, 1.78, 1.9]),
 (6.5, [0.4, 0.52, 0.75, 0.9, 1.1, 1.22, 1.42, 1.55, 1.65, 1.75, 1.85]), (6.4, [0.5, 0.78, 1.0, 1.2, 1.38, 1.48, 1.6, 1.7]),
 (6.3, [0.7, 0.82, 1.15, 1.3, 1.55, 1.68]), (6.2, [0.45, 0.75, 0.85, 1.12, 1.35, 1.45, 1.7]), (6.1, [0.8, 1.28, 1.48, 1.62]),
 (6.0, [1.3, 1.42, 1.85]), (5.9, [1.38, 1.5]), (5.8, [1.48, 1.58]), (5.7, [1.52, 1.6]),
 (1.45, [-2.12]), (1.4, [-1.5, -1.35]), (1.32, [-1.18, -0.98]), (1.25, [-1.3, -0.82]), (1.15, [-2.2, -1.05, -0.5]),
 (1.05, [-1.78, -1.22, -0.84]), (0.98, [-1.6, -1.32]), (0.9, [-2.35, -1.92, -1.55]), (0.82, [-1.75, -0.88, -0.22]),
 (0.75, [-2.2, -1.48, -0.62]), (0.68, [-2.05, -1.88, -1.28, -0.45]), (0.6, [-2.12, -1.65, -0.95, -0.82]),
 (0.52, [-1.42, -1.22, -0.45]), (0.45, [-2.0, -1.8, -0.78]), (0.38, [-2.05, -1.68, -0.6, -0.82]),
 (0.3, [-2.5, -1.85, -1.42, -1.0]), (0.22, [-2.18, -1.95, -1.32, -0.85, -0.45]), (0.15, [-1.72, -1.48, -1.2]),
 (0.08, [-2.22, -2.0, -1.08, -0.72]), (0.0, [-2.3, -1.75, -1.55, -0.8]), (-0.08, [-2.05, -1.22, -0.7, -0.55]),
 (-0.15, [-2.15, -1.92, -1.4, -1.05]), (-0.22, [-2.55, -1.72, -0.9, -0.5]), (-0.3, [-2.0, -1.6, -1.35, -0.72]),
 (-0.36, [-2.48, -2.2, -1.25, -0.05]), (-0.42, [-1.95, -1.55, -1.15, -0.68, -0.45]),
 (-0.5, [-2.3, -1.75, -1.2, -0.25, 1.1]), (-0.56, [-2.1, -1.45, -1.0, -0.55]),
 (-0.62, [-2.45, -1.9, -1.7, -0.32]), (-0.7, [-2.6, -2.25, -1.3, -0.92, -0.1, 1.0]),
 (-0.78, [-2.35, -2.0, -1.55, -0.7, 0.02, 0.58]), (-0.86, [-2.5, -1.82, -1.12, -0.38, 0.28, 0.82]),
 (-0.94, [-2.15, -1.6, -0.88, -0.55, 0.15, 1.45]), (-1.02, [-2.38, -1.38, -0.75, -0.15, 0.4]),
 (-1.1, [-2.05, -1.9, -1.05, -0.42]), (-1.18, [-2.55, -1.65, -1.25, -0.6, 0.22]),
 (-1.26, [-2.28, -1.45, -0.9, -0.1]), (-1.34, [-2.0, -1.75, -1.05, -0.32, 0.35]),
 (-1.42, [-2.45, -1.2, -0.72, 0.0]), (-1.5, [-2.15, -1.55, -0.5, 0.15]),
 (-1.58, [-2.32, -1.88, -1.0, -0.25, 0.5]), (-1.66, [-1.62, -1.35, -0.82, 0.08]),
 (-1.74, [-2.4, -2.05, -1.12, -0.45, 0.28]), (-1.82, [-1.8, -1.48, -0.65, 0.02, 0.55]),
 (-1.9, [-2.2, -1.25, -0.95, -0.2, 0.38]), (-1.98, [-2.6, -1.95, -1.62, -0.5, 0.12]),
 (-2.06, [-2.35, -1.38, -0.82, -0.08, 0.45, 0.62, 1.42]), (-2.14, [-2.1, -1.72, -1.05, -0.35, 0.28, 1.55]),
 (-2.22, [-2.62, -1.5, -0.6, 0.05, 0.52, 1.25]), (-2.3, [-2.4, -1.9, -1.2, -0.78, 0.2, 0.7]),
 (-2.38, [-2.55, -2.15, -1.62, -0.45, 0.4, 1.0, 1.52]), (-2.46, [-2.28, -1.35, -0.95, -0.15, 0.6]),
 (-2.54, [-2.45, -1.78, -1.1, -0.62, 0.12, 0.72]), (-2.62, [-2.05, -1.52, -0.3, 0.35]),
 (-2.7, [-2.5, -1.85, -1.2, -0.8, 0.05]), (-2.78, [-2.3, -1.6, -0.5, 0.25, 0.62]),
 (-2.86, [-2.1, -1.35, -0.95, -0.2, 0.78]), (-2.94, [-1.82, -1.15, -0.62, 0.1]),
 (-3.02, [-1.98, -1.5, -0.35, 0.45]), (-3.1, [-1.68, -1.02, -0.75, -0.05]),
 (-3.18, [-1.9, -1.3, -0.5, 0.3]), (-3.26, [-1.55, -0.85, -0.18, 0.55]),
 (-3.34, [-1.75, -1.15, -0.62, 0.05]), (-3.42, [-1.42, -0.95, -0.3, 0.48]),
 (-3.5, [-1.2, -0.7, -0.12]), (-3.58, [-1.35, -0.45, 0.22]), (-3.66, [-1.02, -0.6, 0.12, 0.5]),
 (-3.74, [-0.9, -0.22]), (-3.82, [-0.05])]
p4_tumor_pts = [(-2.46,2.54),(-2.63,2.39),(-2.60,2.09),(-2.71,2.04),(-2.90,1.91),(-2.85,1.91),(-2.93,1.60),(-2.82,1.63),(-2.64,1.46),(-2.50,1.73),(-2.42,1.53),(-2.28,1.50),(-0.96,1.94),(-0.93,1.68),(-0.22,1.53),(-0.18,1.48),(-0.15,1.40),(-0.50,1.38),(-0.64,1.10),(-0.20,1.08),(-0.15,0.98),(-0.04,1.10),(0.01,1.08),(0.09,0.98),(-0.20,0.86),(-0.14,0.80),(0.42,1.03),
 (1.20,-3.38),(1.25,-3.54),(1.30,-3.61),(1.36,-3.66),(1.26,-3.71),(1.17,-3.58),(1.09,-3.71),(1.13,-3.81),(1.33,-3.76),(1.52,-3.71),(1.49,-3.41),(1.58,-3.41),(1.30,-3.32),(1.01,-3.48),(0.94,-3.34),(1.25,-3.05),(1.47,-2.63),(1.67,-2.55),(1.74,-2.68),(1.84,-3.00),(1.91,-3.05),(1.17,-2.55),(1.01,-2.30),(0.87,-3.05),(1.17,-3.98),(0.87,-3.36),(1.22,-3.45),(1.28,-3.48),(1.40,-3.55),(1.15,-3.46),
 (0.55,-0.58),(0.71,-0.55),(0.87,-0.64),(1.04,-0.58),(1.17,-0.45),(1.30,-0.53),(1.44,-0.58),(1.57,-0.64),(1.68,-0.79),(1.82,-0.84),(1.92,-0.99),(2.17,-1.04),(2.27,-1.16),(1.65,-1.06),(1.82,-1.59),(1.98,-1.44),(2.03,-1.95),(2.14,-1.79),(2.25,-2.35),(2.17,-2.40),(2.09,-2.57),(1.95,-3.03),(1.90,-3.16),(1.87,-3.05),
 (2.63,-2.05),(2.71,-2.00),(2.81,-1.84),(2.92,-1.69),(2.98,-1.54),(3.06,-1.44),(3.14,-1.42),(3.25,-1.29),(3.33,-1.19),(3.41,-1.26),(3.00,-0.89),(3.16,-0.69),(3.37,-0.66),(3.57,-0.61),(3.68,-0.79),(3.78,-0.74),(3.86,-0.53),(3.92,-0.38),(4.03,-0.33),(4.11,-0.43),(4.16,-0.69),(4.24,-0.38),(4.27,-0.79),(2.71,-0.33),(2.81,-0.31),(2.92,-0.31),(2.86,-1.04),(3.00,-1.26),
 (3.47,-0.95),(3.52,-0.82),(3.62,-0.7),(3.72,-0.55),(3.95,-0.5),(4.05,-0.45),(4.1,-0.58),(4.18,-0.52),(4.2,-0.3),(2.55,-2.1),(2.4,-2.22),(2.35,-2.3),(2.75,-1.9),(2.88,-1.78),(3.1,-1.52),(3.2,-1.38)]

# ---------------- Panel 5: Celligner pan cancer ----------------
p5_cell_pts = [(-3.33,1.10),(-3.08,3.34),(-2.72,2.06),(-2.08,3.59),(-2.32,1.29),(-2.22,1.36),(-2.17,0.88),(-1.99,0.40),(-1.89,1.01),(-1.79,1.04),(-1.87,0.68),(-1.72,0.65),(-1.67,0.65),(-1.62,1.14),(-1.58,1.11),(-1.49,2.06),(-1.47,4.17),(-1.43,4.13),(-1.11,0.52),(-1.08,1.61),(-1.02,1.96),(-0.99,1.74),(-0.79,1.87),(-0.74,1.80),(-0.77,1.36),(-0.74,1.44),(0.14,3.79),(0.23,3.66),(0.25,3.79),(0.29,0.59),(0.69,3.34),(0.64,1.57),(0.66,1.44),(1.16,3.87),(1.39,1.99),(1.46,2.06),(1.29,0.46),(1.33,0.42),(1.51,4.81),(1.60,5.00),(1.79,3.47),(1.88,2.63),(2.35,0.63),(2.36,0.55),(2.64,3.95),(2.61,3.91),(3.24,2.51),(3.29,2.51),(3.31,2.51),
 (-1.27,-8.84),(-1.24,-9.07),(-1.17,-9.32),(-1.07,-9.26),(-0.99,-9.19),(-0.94,-8.45),(-0.83,-8.45),(-0.73,-8.45),(-0.64,-8.36),(-0.58,-8.40),(-0.49,-8.32),(-0.43,-8.49),(-0.39,-8.55),(-0.62,-8.68),(-0.68,-8.76),(-0.59,-8.84),(-0.62,-8.88),(-0.48,-8.84),(-0.29,-8.79),(-0.72,-9.07),(-0.65,-9.14),(-0.14,-8.94),(-0.12,-9.00),(0.71,-8.91),(0.74,-8.91),(-1.47,-10.41),(-1.39,-10.45),(-1.12,-10.47),(-1.13,-10.58),(-0.22,-10.28),(-0.18,-10.41),(-0.10,-10.22),(0.49,-10.22)]
p5_tumor_rows = [
 (4.85, [1.32, 1.42, 1.5]), (4.75, [0.7, 1.38, 1.55, 1.62]), (4.65, [0.9, 1.12, 1.3, 1.45, 1.58, 1.7]),
 (4.55, [1.05, 1.22, 1.4, 1.52, 1.65, 1.78]), (4.45, [0.45, 1.0, 1.15, 1.35, 1.48, 1.6, 1.72, 1.85]),
 (4.35, [-0.5, 0.95, 1.08, 1.28, 1.42, 1.55, 1.68, 1.8]),
 (4.25, [-1.3, -1.22, -1.1, -0.2, 0.05, 0.28, 0.72, 0.88, 1.02, 1.18, 1.35, 1.5, 1.62, 1.75, 1.9, 2.0]),
 (4.15, [-1.38, -1.25, -1.15, -1.05, -0.95, -0.3, 0.15, 0.55, 0.82, 0.98, 1.12, 1.3, 1.45, 1.58, 1.72, 1.85]),
 (4.05, [-1.42, -1.32, -1.2, -1.08, -0.9, -0.58, -0.1, 0.2, 0.62, 0.75, 0.92, 1.08, 1.25, 1.4, 1.52, 1.68, 1.8, 1.95, 2.02]),
 (3.95, [-1.55, -1.28, -1.15, -0.98, -0.8, -0.62, -0.45, 0.42, 0.68, 0.85, 1.02, 1.2, 1.35, 1.48, 1.62, 1.75, 1.9, 2.25, 2.65]),
 (3.85, [-1.6, -1.45, -1.35, -1.22, -1.0, -0.72, -0.55, -0.3, -0.1, 0.05, 0.58, 0.78, 0.98, 1.15, 1.3, 1.45, 1.58, 1.72, 1.85, 2.0, 2.28, 2.5, 2.58]),
 (3.75, [-1.22, -1.05, -0.88, -0.65, -0.48, -0.2, 0.1, 0.3, 0.5, 0.72, 0.9, 1.08, 1.25, 1.38, 1.5, 1.65, 1.78, 1.95, 2.12]),
 (3.65, [-1.5, -1.3, -1.1, -0.95, -0.78, -0.58, -0.38, -0.15, 0.18, 0.38, 0.6, 0.82, 1.0, 1.18, 1.32, 1.45, 1.6, 1.72, 1.88]),
 (3.55, [-1.35, -1.15, -0.72, -0.55, -0.32, -0.05, 0.12, 0.32, 0.52, 0.75, 0.95, 1.12, 1.28, 1.42, 1.55, 1.7, 1.82, 2.0, 2.1]),
 (3.45, [-1.2, -0.98, -0.85, -0.62, -0.42, -0.2, 0.0, 0.25, 0.45, 0.65, 0.85, 1.05, 1.22, 1.38, 1.52, 1.65, 1.8, 1.98, 2.15]),
 (3.35, [-3.1, -2.98, -2.92, -2.85, -1.02, -0.72, -0.5, -0.28, -0.05, 0.18, 0.42, 0.58, 0.78, 0.98, 1.18, 1.32, 1.45, 1.6, 1.75, 1.9]),
 (3.25, [-3.05, -2.95, -2.88, -2.8, -2.72, -2.62, -2.5, -1.3, -1.15, -0.88, -0.65, -0.42, -0.18, 0.08, 0.3, 0.5, 0.7, 0.92, 1.1, 1.25, 1.42, 1.55, 1.7, 1.88, 2.05, 2.2]),
 (3.15, [-3.0, -2.9, -2.82, -2.75, -1.55, -1.35, -1.02, -0.8, -0.58, -0.35, -0.1, 0.15, 0.38, 0.62, 0.85, 1.05, 1.2, 1.38, 1.5, 1.65, 1.82, 2.0, 2.62]),
 (3.05, [-3.18, -2.98, -2.7, -2.55, -1.65, -1.45, -1.22, -0.95, -0.72, -0.48, -0.22, 0.02, 0.25, 0.5, 0.72, 0.95, 1.12, 1.3, 1.45, 1.6, 1.78, 1.95, 2.12, 2.3]),
 (2.95, [-3.2, -3.1, -2.9, -1.52, -1.3, -1.1, -0.85, -0.62, -0.38, -0.12, 0.1, 0.35, 0.6, 0.82, 1.0, 1.18, 1.35, 1.52, 1.68, 1.85, 2.02, 2.22]),
 (2.85, [-3.05, -2.5, -2.08, -1.75, -1.4, -1.18, -0.92, -0.7, -0.48, -0.25, 0.0, 0.22, 0.45, 0.7, 0.92, 1.1, 1.28, 1.45, 1.62, 1.8, 1.95, 2.35, 2.9]),
 (2.75, [-2.62, -1.68, -1.25, -1.02, -0.78, -0.55, -0.32, -0.08, 0.15, 0.38, 0.62, 0.85, 1.05, 1.22, 1.38, 1.55, 1.72, 1.9, 2.1, 2.78, 3.05]),
 (2.65, [-2.55, -1.85, -1.55, -1.12, -0.88, -0.65, -0.42, -0.18, 0.05, 0.28, 0.52, 0.75, 0.98, 1.15, 1.32, 1.5, 1.65, 1.82, 2.0, 2.2, 3.12, 3.2]),
 (2.55, [-2.6, -2.28, -1.62, -1.38, -1.0, -0.75, -0.52, -0.28, -0.05, 0.2, 0.42, 0.65, 0.88, 1.08, 1.25, 1.42, 1.6, 1.75, 1.92, 2.12, 2.48, 2.75, 3.0, 3.12]),
 (2.45, [-2.7, -2.45, -2.2, -1.45, -1.2, -0.9, -0.65, -0.4, -0.15, 0.1, 0.32, 0.55, 0.78, 1.0, 1.18, 1.35, 1.52, 1.7, 1.88, 2.05, 2.35, 2.82, 3.18]),
 (2.35, [-2.82, -2.4, -2.0, -1.78, -1.32, -1.08, -0.82, -0.55, -0.3, -0.05, 0.2, 0.45, 0.68, 0.9, 1.1, 1.28, 1.45, 1.62, 1.8, 1.98, 2.2, 2.62]),
 (2.25, [-2.78, -2.58, -2.15, -1.6, -1.25, -0.95, -0.7, -0.45, -0.2, 0.05, 0.3, 0.52, 0.75, 0.98, 1.18, 1.38, 1.55, 1.72, 1.9, 2.1, 2.3]),
 (2.15, [-2.85, -1.9, -1.45, -1.15, -0.85, -0.6, -0.32, -0.08, 0.18, 0.4, 0.62, 0.85, 1.05, 1.25, 1.42, 1.62, 1.8, 2.0, 2.2, 2.5]),
 (2.05, [-2.25, -2.02, -1.62, -1.3, -1.05, -0.78, -0.5, -0.25, 0.0, 0.25, 0.48, 0.72, 0.92, 1.12, 1.32, 1.5, 1.7, 1.88, 2.05, 2.28]),
 (1.95, [-2.35, -1.78, -1.42, -1.18, -0.92, -0.62, -0.38, -0.12, 0.12, 0.35, 0.58, 0.8, 1.0, 1.2, 1.4, 1.58, 1.78, 1.98, 2.15]),
 (1.85, [-1.95, -1.55, -1.28, -1.02, -0.72, -0.48, -0.22, 0.05, 0.28, 0.5, 0.72, 0.92, 1.12, 1.32, 1.5, 1.68, 1.88, 2.08]),
 (1.75, [-2.5, -2.1, -1.7, -1.38, -1.12, -0.85, -0.6, -0.32, -0.05, 0.2, 0.42, 0.65, 0.85, 1.05, 1.25, 1.45, 1.62, 1.8, 2.0, 2.2]),
 (1.65, [-1.85, -1.5, -1.22, -0.95, -0.7, -0.45, -0.18, 0.1, 0.32, 0.55, 0.78, 0.98, 1.18, 1.38, 1.55, 1.75, 1.92, 2.12]),
 (1.55, [-2.6, -2.38, -1.62, -1.32, -1.05, -0.8, -0.55, -0.28, 0.0, 0.22, 0.45, 0.68, 0.9, 1.1, 1.3, 1.48, 1.68, 1.85, 2.05, 2.25]),
 (1.45, [-2.05, -1.75, -1.45, -1.15, -0.9, -0.62, -0.38, -0.1, 0.15, 0.38, 0.6, 0.82, 1.02, 1.22, 1.42, 1.6, 1.78, 1.98, 2.18]),
 (1.35, [-2.85, -2.3, -1.9, -1.55, -1.25, -1.0, -0.72, -0.48, -0.2, 0.05, 0.28, 0.5, 0.72, 0.95, 1.15, 1.35, 1.52, 1.72, 1.9, 2.1]),
 (1.25, [-2.12, -1.7, -1.38, -1.1, -0.82, -0.58, -0.3, -0.05, 0.2, 0.42, 0.65, 0.88, 1.08, 1.28, 1.45, 1.65, 1.85, 2.02, 2.3]),
 (1.15, [-2.52, -2.28, -1.95, -1.5, -1.22, -0.95, -0.68, -0.4, -0.15, 0.1, 0.35, 0.58, 0.8, 1.0, 1.2, 1.4, 1.58, 1.78, 1.98, 2.2]),
 (1.05, [-3.3, -3.18, -3.05, -2.9, -2.68, -2.52, -2.38, -1.8, -1.35, -1.05, -0.78, -0.5, -0.25, 0.0, 0.25, 0.48, 0.7, 0.92, 1.12, 1.32, 1.5, 1.7, 1.9, 2.12, 2.32]),
 (0.95, [-3.42, -3.35, -3.22, -3.0, -2.85, -2.75, -2.62, -2.48, -2.2, -1.88, -1.6, -1.2, -0.92, -0.62, -0.35, -0.1, 0.15, 0.38, 0.6, 0.82, 1.05, 1.25, 1.45, 1.65, 1.85, 2.05, 2.22]),
 (0.85, [-3.38, -3.15, -2.9, -2.78, -2.6, -2.45, -2.3, -2.05, -1.72, -1.45, -1.02, -0.75, -0.48, -0.22, 0.05, 0.28, 0.52, 0.75, 0.98, 1.18, 1.38, 1.58, 1.78, 1.98, 2.15, 2.3]),
 (0.75, [-2.7, -2.42, -2.18, -1.5, -1.22, -0.88, -0.6, -0.35, -0.08, 0.18, 0.42, 0.65, 0.88, 1.1, 1.3, 1.5, 1.7, 1.9, 2.1, 2.28]),
 (0.65, [-2.35, -1.55, -1.25, -0.98, -0.7, -0.42, -0.15, 0.1, 0.35, 0.58, 0.8, 1.02, 1.22, 1.45, 1.65, 1.85, 2.05, 2.25]),
 (0.55, [-1.85, -1.1, -0.8, -0.52, -0.25, 0.02, 0.22, 0.45, 0.7, 0.92, 1.15, 1.35, 1.58, 1.78, 1.95]),
 (0.45, [-0.6, -0.38, 0.15, 0.38, 0.6, 0.82, 1.05, 1.25, 1.48, 1.72, 1.9]),
 (0.35, [0.4, 0.65, 0.88, 1.42, 1.75]), (0.28, [0.52, 0.75, 1.05]),
 (-8.35, [-0.95, -0.9, -0.84]), (-8.85, [-1.25, -0.18]), (-8.95, [-0.15, 0.4, 0.5, 0.6, 0.65]),
 (-9.05, [0.3, 0.45, 0.55]), (-9.15, [0.1, 0.22, 0.35]), (-9.25, [-1.0, -0.12, 0.08, 0.18, 0.28, 0.4]),
 (-9.35, [-0.9, -0.8, -0.55, 0.1, 0.2, 0.3]), (-9.45, [-1.08, -0.95, -0.4, -0.2, 0.12, 0.25]),
 (-9.55, [-1.18, -0.98, -0.85, -0.7, -0.02, 0.15, 0.32]), (-9.65, [-1.2, -1.05, -0.9, -0.48, -0.42, -0.35, -0.12, 0.05]),
 (-9.75, [-1.12, -0.95, -0.75, -0.45, -0.25, -0.08, 0.12, 0.22]), (-9.85, [-1.3, -1.0, -0.85, -0.65, -0.52, -0.05, 0.08, 0.18, 0.3]),
 (-9.95, [-1.38, -1.22, -1.05, -0.8, -0.6, -0.2, -0.02, 0.12, 0.2, 0.42, 0.55]),
 (-10.05, [-1.35, -1.25, -1.15, -0.95, -0.75, -0.65, -0.5, -0.38, -0.28, 0.0, 0.1, 0.22, 0.35, 0.5]),
 (-10.15, [-1.3, -1.2, -1.1, -1.0, -0.88, -0.72, -0.6, -0.45, -0.35, 0.05, 0.15, 0.28, 0.38, 0.52]),
 (-10.25, [-1.4, -1.28, -1.15, -1.05, -0.9, -0.78, -0.55, -0.4, 0.12, 0.2, 0.42, 0.5]),
 (-10.35, [-1.35, -1.22, -1.08, -0.98, -0.85, -0.3, 0.15, 0.3, 0.45, 0.52]), (-10.45, [-1.2, -1.05, -0.9, -0.85, 0.48])]


def rows_to_points(rows):
    pts = []
    for y, xs in rows:
        pts.extend((x, y) for x in xs)
    return pts


def frame(tumor_rows, tumor_pts, cell_rows, cell_pts):
    t = rows_to_points(tumor_rows) + list(tumor_pts)
    c = rows_to_points(cell_rows) + list(cell_pts)
    df = pd.DataFrame(t + c, columns=["x", "y"])
    df["type"] = [TUMOR] * len(t) + [CELL] * len(c)
    return df


panels = [
    dict(title=titles[0], df=frame(p1_tumor_rows, p1_tumor_pts, [], p1_cell_pts), rect=(581, 30, 1104.5, 517),
         xlim=(-3.81, 3.33), ylim=(-5.63, 12.42), xt=[-2, 0, 2], xm=[-3, -1, 1, 3],
         yt=[-5, 0, 5, 10], ym=[-2.5, 2.5, 7.5], xl=None),
    dict(title=titles[1], df=frame(p2_tumor_rows, [], p2_cell_rows, []), rect=(1145, 30, 1669.5, 517),
         xlim=(-4.99, 7.74), ylim=(-5.68, 15.16), xt=[-2.5, 0, 2.5, 5, 7.5], xm=[-3.75, -1.25, 1.25, 3.75, 6.25],
         yt=[-5, 0, 5, 10, 15], ym=[-2.5, 2.5, 7.5, 12.5], xl=["-2.5", "0.0", "2.5", "5.0", "7.5"]),
    dict(title=titles[2], df=frame(p3_tumor_rows, p3_tumor_pts, [], p3_cell_pts), rect=(16, 574.7, 540.5, 1060.6),
         xlim=(-3.22, 3.73), ylim=(-3.79, 5.62), xt=[-2, 0, 2], xm=[-3, -1, 1, 3],
         yt=[-2, 0, 2, 4], ym=[-3, -1, 1, 3, 5], xl=None),
    dict(title=titles[3], df=frame(p4_tumor_rows, p4_tumor_pts, [], p4_cell_pts), rect=(581, 574.7, 1104.5, 1060.6),
         xlim=(-3.27, 4.65), ylim=(-5.49, 8.75), xt=[-2, 0, 2, 4], xm=[-3, -1, 1, 3],
         yt=[-5, 0, 5], ym=[-2.5, 2.5, 7.5], xl=None),
    dict(title=titles[4], df=frame(p5_tumor_rows, [], [], p5_cell_pts), rect=(1145, 574.7, 1669.5, 1060.6),
         xlim=(-3.71, 3.65), ylim=(-11.35, 5.71), xt=[-2, 0, 2], xm=[-3, -1, 1, 3],
         yt=[-10, -5, 0, 5], ym=[-7.5, -2.5, 2.5], xl=None),
]

fig = plt.figure(figsize=(W / DPI, H / DPI), dpi=DPI)
fig.patch.set_facecolor("white")
PX = mtransforms.Affine2D().scale(1 / DPI, -1 / DPI).translate(0, H / DPI) + fig.dpi_scale_trans

axes = []
for p in panels:
    l, t, r, b = p["rect"]
    ax = fig.add_axes([l / W, 1 - b / H, (r - l) / W, (b - t) / H])
    sns.scatterplot(data=p["df"], x="x", y="y", hue="type", hue_order=[TUMOR, CELL], palette=PALETTE,
                    s=13, linewidth=0, edgecolor="none", legend=False, ax=ax, zorder=3)
    ax.set_xlim(*p["xlim"])
    ax.set_ylim(*p["ylim"])
    ax.set_xticks(p["xt"])
    ax.set_xticks(p["xm"], minor=True)
    ax.set_yticks(p["yt"])
    ax.set_yticks(p["ym"], minor=True)
    ax.set_xticklabels(p["xl"] if p["xl"] else [str(v) for v in p["xt"]])
    ax.set_yticklabels([str(v) for v in p["yt"]])
    ax.set_xlabel("")
    ax.set_ylabel("")
    ax.set_axisbelow(True)
    ax.grid(True, which="major", color="#EBEBEB", linewidth=0.8)
    ax.grid(True, which="minor", color="#EFEFEF", linewidth=0.55)
    ax.tick_params(which="major", length=2.3, width=0.6, color="#333333", labelsize=6.3,
                   labelcolor="#4D4D4D", pad=1.2, left=True, bottom=True)
    ax.tick_params(which="minor", length=0)
    for s in ax.spines.values():
        s.set_color("#333333")
        s.set_linewidth(1.0)
    ax.set_facecolor("white")
    fig.text((l + 1) / W, 1 - (t - 10) / H, p["title"], fontsize=13.2, fontweight="bold",
             ha="left", va="baseline", color="black", family=["Liberation Sans", "DejaVu Sans"])
    axes.append(ax)

# highlight ellipses (data-space centres, pixel-space shape)
for ax, (cx, cy), w_px, h_px, ang in [(axes[2], (0.37, -2.43), 120, 76, 28),
                                      (axes[3], (1.30, -4.22), 97, 58, 28)]:
    dx, dy = ax.transData.transform((cx, cy))
    fig.add_artist(Ellipse((dx, dy), w_px, h_px, angle=ang, transform=mtransforms.IdentityTransform(),
                           fill=False, edgecolor=ORANGE, linewidth=5.0, zorder=20))

renderer = fig.canvas.get_renderer()
FONT = ["Lato", "DejaVu Sans"]


def fitted(x_px, base_px, s, size, ha="left", color="black", zorder=3):
    return fig.text(x_px / W, 1 - base_px / H, s, fontsize=size, family=FONT, ha=ha, va="baseline",
                    color=color, zorder=zorder)


# fit the slide body font so that "pan cancer data," spans its measured width
probe = fitted(18, 412, slide_lines[2], 40)
body_size = 40 * 387 / probe.get_window_extent(renderer).width
probe.set_fontsize(body_size)
fitted(368, 157, slide_lines[0], body_size, ha="right")
fitted(214, 242, slide_lines[1], body_size, ha="right")
fitted(27, 495, slide_lines[3], body_size, ha="right")

# legend
lg = fitted(618.6, 1127, legend_labels[0], 30)
leg_size = 30 * 117 / lg.get_window_extent(renderer).width
lg.set_fontsize(leg_size)
fitted(958, 1127, legend_labels[1], leg_size)
for (cx, cy), lab in zip([(581, 1110), (918, 1110)], legend_labels):
    fig.add_artist(Circle((cx, cy), 17.5, transform=PX, facecolor=PALETTE[lab], edgecolor="none", zorder=5))

# page number and orange frame
fitted(1527, 1092, page_number, 26, ha="center", color="#8A8A8A", zorder=4)
fig.add_artist(Rectangle((1129, 540), 543, 549, transform=PX, fill=False, edgecolor=ORANGE,
                         linewidth=5.8, zorder=30))

fig.savefig("out.png", dpi=DPI, facecolor="white")
